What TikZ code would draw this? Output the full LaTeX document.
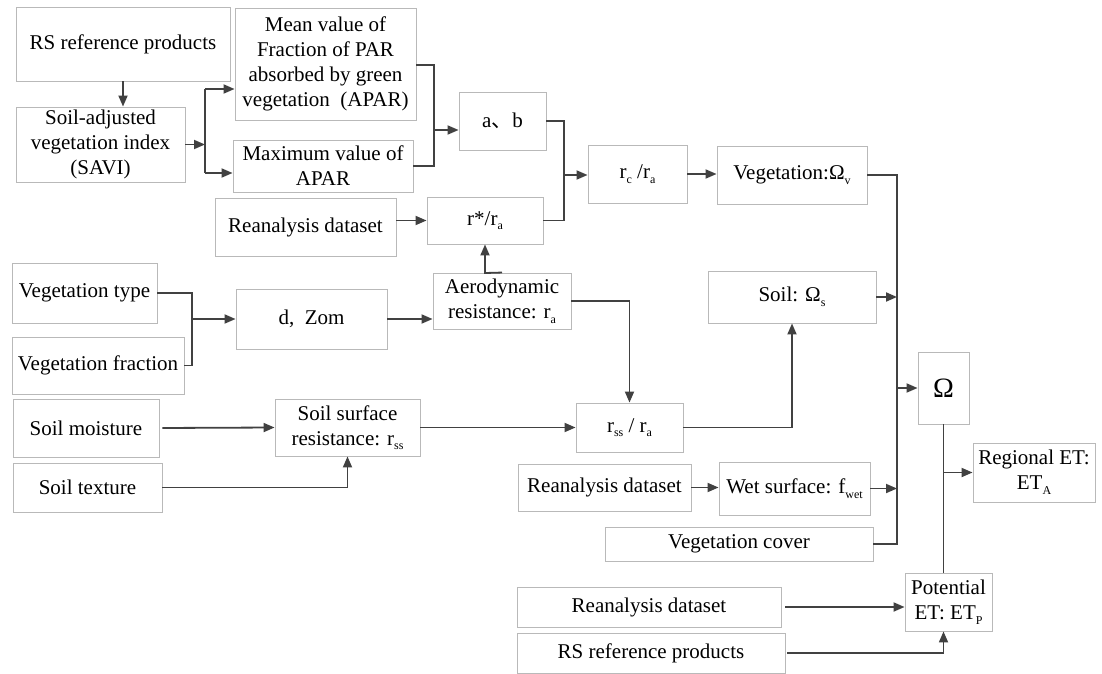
\documentclass[tikz,border=0pt]{standalone}
\usepackage{fontspec}
\setmainfont{Liberation Serif}
\newfontfamily\cjk{Noto Sans CJK SC}
\usetikzlibrary{arrows.meta,shadows}
\definecolor{boxgray}{RGB}{185,185,185}
\definecolor{linegray}{RGB}{65,65,65}
\newcommand\sbs[1]{\raisebox{-0.22em}{\fontsize{12}{12}\selectfont #1}}
\tikzset{
  box/.style={draw=boxgray, line width=0.9pt, fill=white, align=center, inner sep=0pt,
    font=\fontsize{21}{25}\selectfont,
    drop shadow={shadow xshift=1.3pt, shadow yshift=-1.3pt, fill=black, opacity=0.15}},
  conn/.style={draw=linegray, line width=1.8pt},
  arr/.style={conn, -{Triangle[length=11pt,width=9pt]}},
}
\begin{document}
\begin{tikzpicture}[x=1pt,y=-1pt]
\useasboundingbox[fill=white] (0,0) rectangle (1102,674);
% nodes
\node[box, minimum width=214pt, minimum height=74pt] (rs1) at (123,44) {RS reference products};
\node[box, minimum width=169pt, minimum height=75pt] (savi) at (100.5,144.5) {Soil-adjusted\\vegetation index\\(SAVI)};
\node[box, minimum width=181pt, minimum height=112pt] (mean) at (325.5,64) {Mean value of\\Fraction of PAR\\absorbed by green\\vegetation\ \ (APAR)};
\node[box, minimum width=180pt, minimum height=52pt] (maxv) at (323,166) {Maximum value of\\APAR};
\node[box, minimum width=87pt, minimum height=58pt] (ab) at (502.5,121) {a{\cjk 、}b};
\node[box, minimum width=181pt, minimum height=58pt] (rea1) at (305.5,227) {Reanalysis dataset};
\node[box, minimum width=116pt, minimum height=47pt] (rstar) at (485,220.5) {r*/r\sbs{a}};
\node[box, minimum width=99pt, minimum height=58pt] (rc) at (637.5,174) {r\sbs{c} /r\sbs{a}};
\node[box, minimum width=150pt, minimum height=58pt] (veg) at (792,175) {Vegetation:Ω\sbs{v}};
\node[box, minimum width=145pt, minimum height=60pt] (vtype) at (84.5,293) {Vegetation type};
\node[box, minimum width=172pt, minimum height=57pt] (vfrac) at (98,365.5) {Vegetation fraction};
\node[box, minimum width=151pt, minimum height=60pt] (dzom) at (311.5,319) {d,\ \ Zom};
\node[box, minimum width=138pt, minimum height=56pt] (aero) at (502,301) {Aerodynamic\\resistance: r\sbs{a}};
\node[box, minimum width=168pt, minimum height=52pt] (soil) at (792,297) {Soil: Ω\sbs{s}};
\node[box, minimum width=51pt, minimum height=72pt, font=\fontsize{28}{30}\selectfont] (omega) at (943.5,388) {Ω};
\node[box, minimum width=146pt, minimum height=58pt] (smoist) at (86,428) {Soil moisture};
\node[box, minimum width=149pt, minimum height=49pt] (stext) at (87.5,487.5) {Soil texture};
\node[box, minimum width=145pt, minimum height=57pt] (ssr) at (347.5,427.5) {Soil surface\\resistance: r\sbs{ss}};
\node[box, minimum width=107pt, minimum height=49pt] (rss) at (629.5,427.5) {r\sbs{ss} / r\sbs{a}};
\node[box, minimum width=173pt, minimum height=47pt] (rea2) at (604.5,487.5) {Reanalysis dataset};
\node[box, minimum width=151pt, minimum height=53pt] (wet) at (794.5,488.5) {Wet surface: f\sbs{wet}};
\node[box, minimum width=268pt, minimum height=34pt] (vcov) at (739,544) {Vegetation cover};
\node[box, minimum width=122pt, minimum height=59pt] (regional) at (1034,472.5) {Regional ET:\\ET\sbs{A}};
\node[box, minimum width=87pt, minimum height=58pt] (pot) at (948.5,602) {Potential\\ET: ET\sbs{P}};
\node[box, minimum width=264pt, minimum height=40pt] (rea3) at (649,607) {Reanalysis dataset};
\node[box, minimum width=268pt, minimum height=40pt] (rs2) at (651,653) {RS reference products};
% junction coordinates
\coordinate (jA) at (205,89);
\coordinate (jB) at (205,173);
\coordinate (jC) at (434,65);
\coordinate (jD) at (434,166);
\coordinate (jE) at (434,130);
\coordinate (jF) at (564,121);
\coordinate (jG) at (564,220.5);
\coordinate (jH) at (564,175);
\coordinate (bus1) at (897,175);
\coordinate (bus2) at (897,544);
\coordinate (jR) at (943.5,472.5);
\coordinate (jV) at (192,319);
\coordinate (jK) at (485,273);
\coordinate (jL) at (629.5,301);
\coordinate (jM) at (792,427.5);
\coordinate (jS) at (347.5,487.5);
\coordinate (jP) at (943.5,653);
% connectors
\draw[arr] (rs1.south) -- (rs1.south |- savi.north);
\draw[arr] (savi.east) -- (savi.east -| jA);
\draw[conn] (jA) -- (jB);
\draw[arr] (jA) -- (jA -| mean.west);
\draw[arr] (jB) -- (jB -| maxv.west);
\draw[conn] (jC -| mean.east) -- (jC) -- (jD) -- (jD -| maxv.east);
\draw[arr] (jE) -- (jE -| ab.west);
\draw[conn] (ab.east) -- (jF) -- (jG) -- (rstar.east);
\draw[arr] (jH) -- (jH -| rc.west);
\draw[arr] (rea1.east |- rstar.west) -- (rstar.west);
\draw[arr] (rc.east) -- (rc.east -| veg.west);
\draw[conn] (veg.east) -- (bus1) -- (bus2) -- (vcov.east);
\draw[arr] (soil.east) -- (soil.east -| bus1);
\draw[arr] (wet.east) -- (wet.east -| bus1);
\draw[arr] (omega.west -| bus1) -- (omega.west);
\draw[conn] (omega.south) -- (pot.north -| omega.south);
\draw[arr] (jR) -- (regional.west);
\draw[conn] (vtype.east) -- (vtype.east -| jV) -- (vfrac.east -| jV) -- (vfrac.east);
\draw[arr] (jV) -- (jV -| dzom.west);
\draw[arr] (dzom.east) -- (dzom.east -| aero.west);
\draw[arr] (aero.north) -- (jK) -- (rstar.south);
\draw[arr] (aero.east) -- (jL) -- (rss.north);
\draw[arr] (rss.east) -- (jM) -- (soil.south);
\draw[arr, shorten <=3pt] (smoist.east) -- (ssr.west);
\draw[arr] (stext.east) -- (jS) -- (ssr.south);
\draw[arr] (ssr.east) -- (rss.west);
\draw[arr] (rea2.east) -- (rea2.east -| wet.west);
\draw[arr, shorten <=4pt] (rea3.east) -- (rea3.east -| pot.west);
\draw[arr, shorten <=2pt] (rs2.east) -- (jP) -- (pot.south -| jP);
\end{tikzpicture}
\end{document}
